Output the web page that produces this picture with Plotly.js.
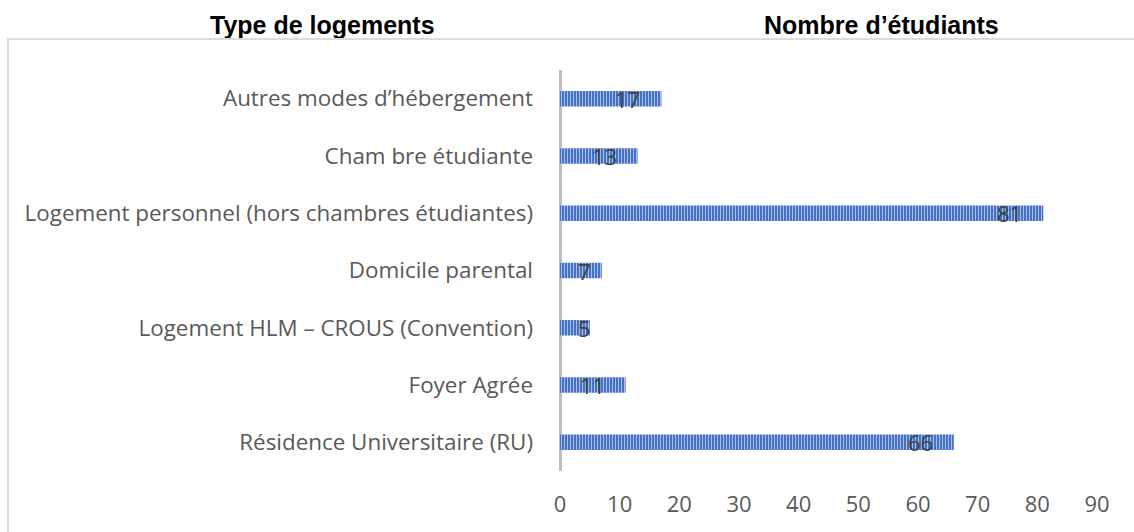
<!DOCTYPE html>
<html><head><meta charset="utf-8">
<script src="https://cdn.plot.ly/plotly-3.0.1.min.js"></script>
<style>
html,body{margin:0;padding:0;background:#fff;}
#wrap{position:relative;width:1134px;height:532px;}
#chart{width:1134px;height:532px;}
#frame{position:absolute;left:7px;top:38px;width:1127px;height:494px;border-top:2px solid #dcdcdc;border-left:2px solid #dcdcdc;box-sizing:border-box;pointer-events:none;}
</style></head>
<body><div id="wrap"><div id="chart"></div><div id="frame"></div></div>
<script>
const categories = [
  "Autres modes d’hébergement",
  "Cham bre étudiante",
  "Logement personnel (hors chambres étudiantes)",
  "Domicile parental",
  "Logement HLM – CROUS (Convention)",
  "Foyer Agrée",
  "Résidence Universitaire (RU)"
];
const values = [17, 13, 81, 7, 5, 11, 66];
const xTicks = [0, 10, 20, 30, 40, 50, 60, 70, 80, 90];
const headerLeft = "Type de logements";
const headerRight = "Nombre d’étudiants";

const W = 1134, H = 532;
const M = {l: 560, r: 37, t: 70, b: 61};
const plotW = W - M.l - M.r;
const xMax = 90;
const pxPerUnit = plotW / xMax;
const labelFont = {family: 'Open Sans, sans-serif', size: 22, color: '#404040'};
const digitW = 12.6;

const trace = {
  type: 'bar', orientation: 'h',
  x: values, y: categories,
  width: 0.27,
  marker: {
    color: '#4472C4',
    line: {width: 0},
    pattern: {shape: '|', fgcolor: '#a8bde8', bgcolor: '#4472C4', size: 3, solidity: 0.35, fillmode: 'replace'}
  },
  hoverinfo: 'none'
};

const annotations = values.map((v, i) => {
  const tw = String(v).length * digitW;
  const fitsInside = v * pxPerUnit - 19 - tw >= 16;
  return fitsInside
    ? {x: v, y: categories[i], xref: 'x', yref: 'y', text: String(v), showarrow: false,
       xanchor: 'right', xshift: -19, font: labelFont}
    : {x: 0, y: categories[i], xref: 'x', yref: 'y', text: String(v), showarrow: false,
       xanchor: 'left', xshift: 16, font: labelFont};
});
const headerFont = {family: 'Liberation Sans, Arial, sans-serif', size: 25, color: '#000', weight: 'bold'};
annotations.push({
  xref: 'paper', yref: 'paper', x: (322 - M.l) / plotW, y: 1, yshift: 45, text: headerLeft, showarrow: false,
  xanchor: 'center', yanchor: 'middle', font: headerFont
});
annotations.push({
  xref: 'paper', yref: 'paper', x: (881 - M.l) / plotW, y: 1, yshift: 45, text: headerRight, showarrow: false,
  xanchor: 'center', yanchor: 'middle', font: headerFont
});

const layout = {
  width: W, height: H,
  margin: M,
  paper_bgcolor: '#fff', plot_bgcolor: '#fff',
  showlegend: false,
  xaxis: {
    range: [0, xMax], tickvals: xTicks, ticktext: xTicks.map(String),
    showgrid: false, zeroline: true, zerolinecolor: '#bfbfbf', zerolinewidth: 3,
    showline: false, fixedrange: true,
    ticks: '', ticklabelstandoff: 18,
    tickfont: {family: 'Open Sans, sans-serif', size: 22, color: '#595959'}
  },
  yaxis: {
    type: 'category', autorange: 'reversed',
    showgrid: false, zeroline: false, showline: false,
    ticks: '', ticklabelstandoff: 26, fixedrange: true,
    tickfont: {family: 'Open Sans, sans-serif', size: 22.4, color: '#595959'}
  },
  annotations: annotations
};

Plotly.newPlot('chart', [trace], layout, {displayModeBar: false, staticPlot: true});
</script></body></html>
